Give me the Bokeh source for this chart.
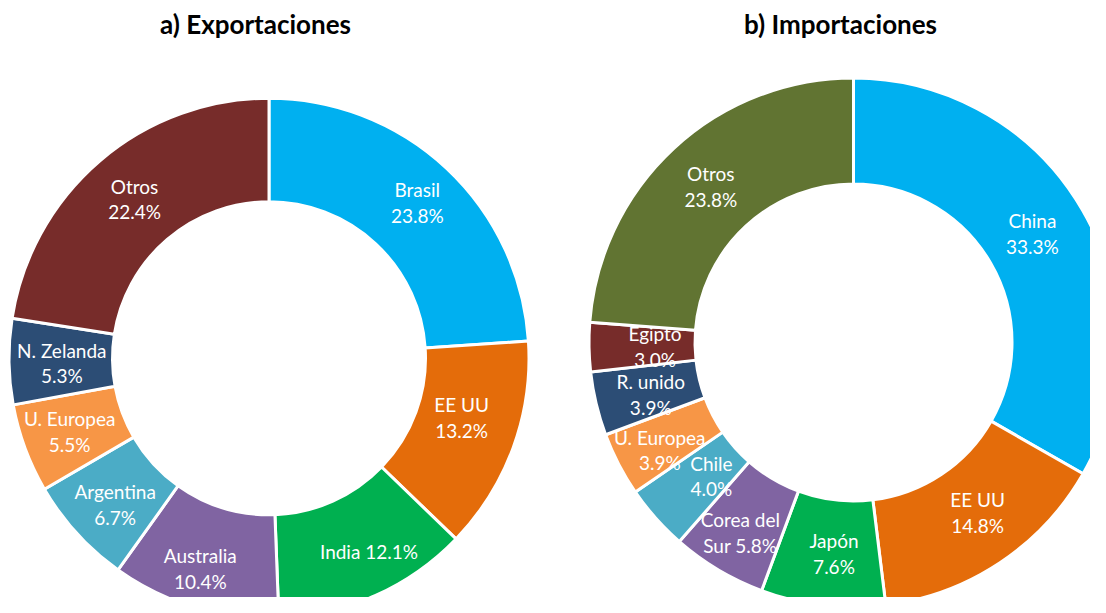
import numpy as np
from bokeh.plotting import figure
from bokeh.models import Range1d, ColumnDataSource
from bokeh.core.properties import value
from bokeh.embed import file_html
from bokeh.resources import INLINE

# ---------------- data ----------------
exp_names = ["Brasil", "EE UU", "India", "Australia", "Argentina", "U. Europea", "N. Zelanda", "Otros"]
exp_values = [23.8, 13.2, 12.1, 10.4, 6.7, 5.5, 5.3, 22.4]
exp_colors = ["#00B0F0", "#E46C0A", "#00B050", "#8064A2", "#4BACC6", "#F79646", "#2C4D75", "#772C2A"]

imp_names = ["China", "EE UU", "Japón", "Corea del Sur", "Chile", "U. Europea", "R. unido", "Egipto", "Otros"]
imp_values = [33.3, 14.8, 7.6, 5.8, 4.0, 3.9, 3.9, 3.0, 23.8]
imp_colors = ["#00B0F0", "#E46C0A", "#00B050", "#8064A2", "#4BACC6", "#F79646", "#2C4D75", "#772C2A", "#617432"]

titles = ["a) Exportaciones", "b) Importaciones"]

# label layout (styling): how the name is split from the value, and small nudges in px
exp_display = ["Brasil", "EE UU", "India", "Australia", "Argentina", "U. Europea", "N. Zelanda", "Otros"]
exp_sep = ["\n", "\n", " ", "\n", "\n", "\n", "\n", "\n"]
exp_dx = [6, -3, 15, -9, 0, -4, 1, 1]
exp_dy = [-4, -12, 3, 11, 6, 1, 2, -1]

imp_display = ["China", "EE UU", "Japón", "Corea del\nSur", "Chile", "U. Europea", "R. unido", "Egipto", "Otros"]
imp_sep = ["\n", "\n", "\n", " ", "\n", "\n", "\n", "\n", "\n"]
imp_dx = [-4, 7, 5, -5, 16, -6, 3, 13, 1]
imp_dy = [-3, -6, 1, 8, -7, 10, 3, 0, -1]

# ---------------- layout ----------------
W, H = 1090, 597
SCREEN_H = 613  # data y = SCREEN_H - screen y


def sy(y):
    return SCREEN_H - y


p = figure(width=W, height=H, output_backend="svg", toolbar_location=None,
           x_range=Range1d(0, W), y_range=Range1d(SCREEN_H - H, SCREEN_H),
           min_border=0, outline_line_color=None, background_fill_color="white")
p.axis.visible = False
p.grid.visible = False


def donut(names, vals, colors, display, sep, dx, dy, cx, cy, r_in, r_out):
    vals = np.array(vals, dtype=float)
    frac = vals / vals.sum()
    cum = np.concatenate([[0], np.cumsum(frac)])
    a0 = cum[:-1] * 2 * np.pi  # clockwise from top
    a1 = cum[1:] * 2 * np.pi
    start = np.pi / 2 - a1
    end = np.pi / 2 - a0
    src = ColumnDataSource(dict(start=start, end=end, color=colors, name=names))
    p.annular_wedge(x=cx, y=sy(cy), inner_radius=r_in - 1.5, outer_radius=r_out + 1.5,
                    start_angle="start", end_angle="end", direction="anticlock",
                    fill_color="color", line_color="white", line_width=3, source=src)
    mid = (a0 + a1) / 2
    rm = (r_in + r_out) / 2
    lx = cx + rm * np.sin(mid) + np.array(dx)
    ly = sy(cy - rm * np.cos(mid) + np.array(dy))
    txt = [f"{d}{s}{v:.1f}%" for d, s, v in zip(display, sep, vals)]
    tsrc = ColumnDataSource(dict(x=lx, y=ly, text=txt))
    p.text(x="x", y="y", text="text", source=tsrc, text_align="center",
           text_baseline="middle", text_color="white", text_font=value("Lato"),
           text_font_size="19px", text_line_height=1.12)


donut(exp_names, exp_values, exp_colors, exp_display, exp_sep, exp_dx, exp_dy,
      268.5, 357.8, 158, 258.5)
donut(imp_names, imp_values, imp_colors, imp_display, imp_sep, imp_dx, imp_dy,
      853, 342, 160, 263)

tsrc = ColumnDataSource(dict(x=[255, 840], y=[sy(23.5), sy(23.5)], text=titles))
p.text(x="x", y="y", text="text", source=tsrc, text_align="center", text_baseline="middle",
       text_color="black", text_font=value("Lato"), text_font_style="bold",
       text_font_size="26px")

open("out.html", "w").write(file_html(p, INLINE))
